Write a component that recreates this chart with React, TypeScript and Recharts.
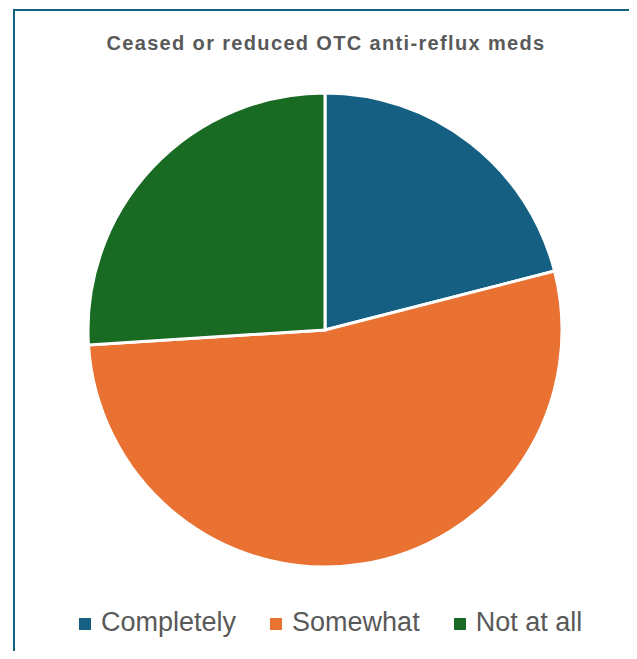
import React from 'react';
import { PieChart, Pie, Cell } from 'recharts';

const categories = ['Completely', 'Somewhat', 'Not at all'];
const shares = [21, 53, 26];
const colors = ['#156082', '#E97132', '#196B24'];

const data = categories.map((name, i) => ({ name, value: shares[i] }));

const FONT = '"Liberation Sans", Arial, sans-serif';

function LegendRow() {
  return (
    <div
      style={{
        position: 'absolute',
        left: 79,
        top: 606,
        display: 'flex',
        gap: 34,
        fontFamily: FONT,
        fontSize: 27,
        color: '#595959',
        lineHeight: '32px',
      }}
    >
      {categories.map((name, i) => (
        <div key={name} style={{ display: 'flex', alignItems: 'center' }}>
          <span
            style={{
              display: 'inline-block',
              width: 12,
              height: 12,
              background: colors[i],
              marginRight: 10,
              marginTop: 3,
            }}
          />
          <span>{name}</span>
        </div>
      ))}
    </div>
  );
}

export default function App() {
  return (
    <div style={{ position: 'relative', width: 637, height: 659, margin: -8, background: '#fff', overflow: 'hidden' }}>
      <div
        style={{
          position: 'absolute',
          left: 13,
          top: 9,
          width: 620,
          height: 700,
          border: '2px solid #156082',
        }}
      />
      <div
        style={{
          position: 'absolute',
          left: 0,
          top: 32,
          width: 652,
          textAlign: 'center',
          fontFamily: FONT,
          fontWeight: 'bold',
          fontSize: 20,
          letterSpacing: 1.35,
          color: '#595959',
        }}
      >
        Ceased or reduced OTC anti-reflux meds
      </div>
      <div style={{ position: 'absolute', left: 0, top: 0 }}>
        <PieChart width={637} height={600} margin={{ top: 0, right: 0, bottom: 0, left: 0 }}>
          <Pie
            data={data}
            dataKey="value"
            nameKey="name"
            cx={325}
            cy={330}
            outerRadius={237}
            startAngle={90}
            endAngle={-270}
            stroke="#ffffff"
            strokeWidth={3}
            isAnimationActive={false}
          >
            {data.map((d, i) => (
              <Cell key={d.name} fill={colors[i]} />
            ))}
          </Pie>
        </PieChart>
      </div>
      <LegendRow />
    </div>
  );
}
